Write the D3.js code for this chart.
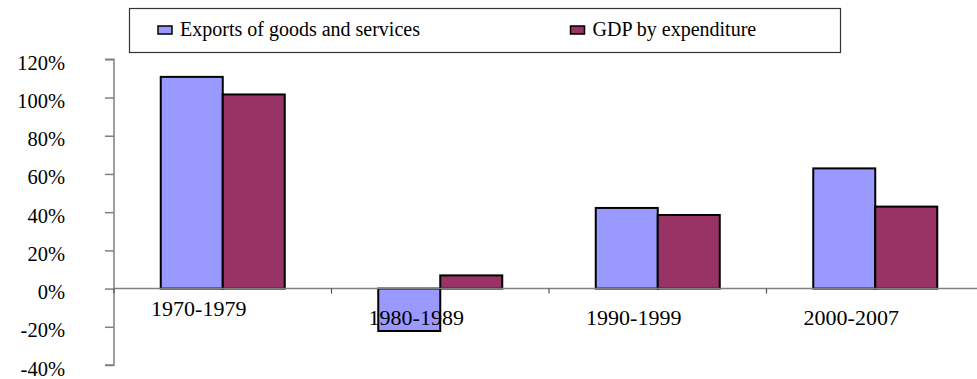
<!DOCTYPE html>
<html><head><meta charset="utf-8">
<script src="https://cdn.jsdelivr.net/npm/d3@7/dist/d3.min.js"></script>
<style>body{margin:0;background:#fff}svg{display:block}text{font-family:"Liberation Serif","Times New Roman",serif;fill:#000}</style>
</head><body><svg id="c" width="977" height="379"></svg>
<script>
const categories = ["1970-1979","1980-1989","1990-1999","2000-2007"];
const seriesNames = ["Exports of goods and services","GDP by expenditure"];
const exportsVals = [110.8, -22.2, 42.2, 62.9];
const gdpVals = [101.6, 6.9, 38.5, 42.9];
const colors = ["#9999FF","#993366"];
const yTicks = [-40,-20,0,20,40,60,80,100,120];

const svg = d3.select("#c");
const x0 = 114, yTop = 59.3, yBot = 365;
const y = d3.scaleLinear().domain([-40,120]).range([yBot, yTop]);
const xb = d3.scaleBand().domain(categories).range([x0, x0 + 4*217.5]).padding(0);
const xs = d3.scaleBand().domain(seriesNames).range([0, 124]);
const off = (xb.bandwidth() - 124)/2;
const data = seriesNames.map((s,i)=>({name:s, vals: i===0?exportsVals:gdpVals, color:colors[i]}));

// y axis
const yAxis = d3.axisLeft(y).tickValues(yTicks).tickSize(9).tickFormat(d=>d+"%");
const ga = svg.append("g").attr("transform",`translate(${x0},0)`).call(yAxis);
ga.select(".domain").attr("stroke","#808080").attr("stroke-width",1.5).attr("d",`M-9,${yTop}H0V${yBot}H-9`);
ga.selectAll(".tick line").attr("stroke","#808080").attr("stroke-width",1.5);
ga.selectAll(".tick text").attr("x",-49).attr("dy","10px").attr("text-anchor","end")
  .style("font-size","20.5px").style("font-family","'Liberation Serif',serif").attr("fill","#000");

// bars
data.forEach(s=>{
  svg.append("g").selectAll("rect").data(categories).join("rect")
    .attr("x",c=>xb(c)+off+xs(s.name))
    .attr("width",xs.bandwidth())
    .attr("y",(c,i)=>y(Math.max(0,s.vals[i])))
    .attr("height",(c,i)=>Math.abs(y(s.vals[i])-y(0)))
    .attr("fill",s.color).attr("stroke","#000").attr("stroke-width",2);
});

// zero line + category ticks
svg.append("line").attr("x1",x0).attr("x2",977).attr("y1",y(0)).attr("y2",y(0)).attr("stroke","#808080").attr("stroke-width",1.5);
svg.append("g").selectAll("line").data(categories).join("line")
  .attr("x1",c=>xb(c)).attr("x2",c=>xb(c)).attr("y1",y(0)).attr("y2",y(0)+5)
  .attr("stroke","#555").attr("stroke-width",1.2);

// category labels
svg.append("g").selectAll("text").data(categories).join("text")
  .attr("x",c=>xb(c)+xb.bandwidth()/2-24)
  .attr("y",(c,i)=>y(0)+(i===0?27.7:36))
  .attr("text-anchor","middle").style("font-size","22px").text(c=>c);

// legend
const lg = svg.append("g");
lg.append("rect").attr("x",129.5).attr("y",8.5).attr("width",711).attr("height",44)
  .attr("fill","#fff").attr("stroke","#333").attr("stroke-width",1.2);
const lx = [158, 570.5];
data.forEach((s,i)=>{
  lg.append("rect").attr("x",lx[i]).attr("y",26).attr("width",14).attr("height",8)
    .attr("fill",s.color).attr("stroke","#000").attr("stroke-width",1.5);
  lg.append("text").attr("x",lx[i]+22).attr("y",36).style("font-size","20px").text(s.name);
});
</script></body></html>
